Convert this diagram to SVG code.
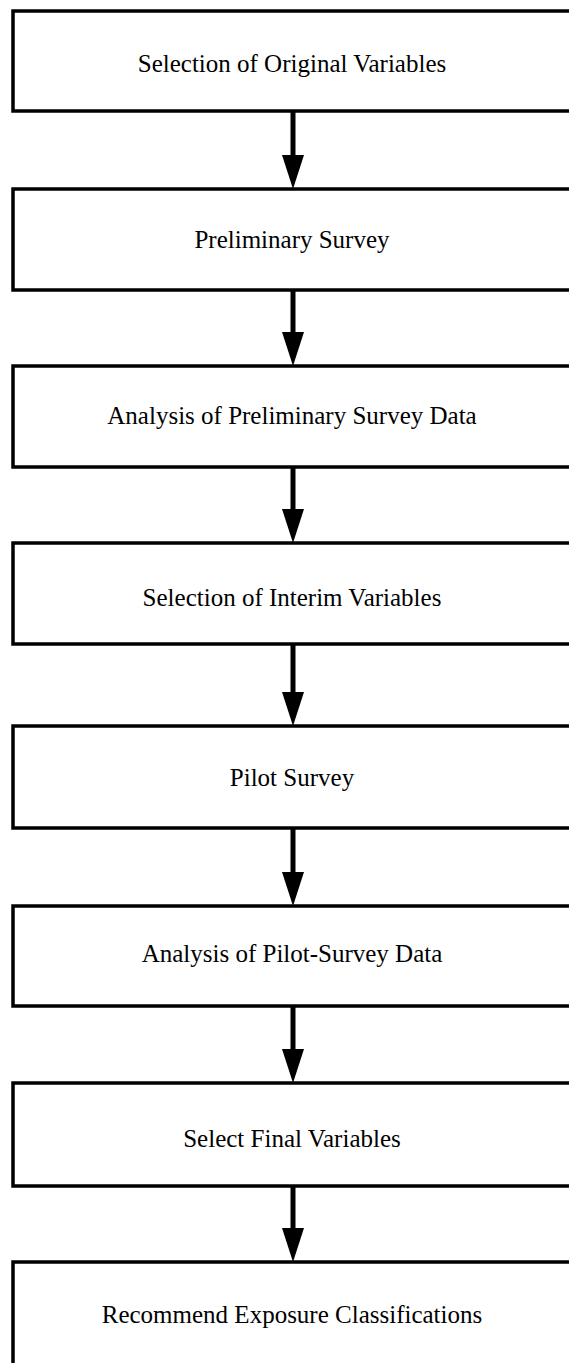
<svg xmlns="http://www.w3.org/2000/svg" width="569" height="1363" viewBox="0 0 569 1363">
<defs>
<style>
.box{fill:#fff;stroke:#000;stroke-width:3.5}
.lbl{font-family:"Liberation Serif","Times New Roman",serif;font-size:25px;fill:#000;text-anchor:middle}
.shaft{stroke:#000;stroke-width:5;fill:none}
.head{fill:#000}
</style>
</defs>
<rect width="569" height="1363" fill="#fff"/>
<g id="n1"><rect class="box" x="13" y="11" width="600" height="100"/><text class="lbl" x="292" y="72">Selection of Original Variables</text></g>
<g id="n2"><rect class="box" x="13" y="189" width="600" height="101"/><text class="lbl" x="292" y="248">Preliminary Survey</text></g>
<g id="n3"><rect class="box" x="13" y="366" width="600" height="101"/><text class="lbl" x="292" y="424">Analysis of Preliminary Survey Data</text></g>
<g id="n4"><rect class="box" x="13" y="543" width="600" height="101"/><text class="lbl" x="292" y="606">Selection of Interim Variables</text></g>
<g id="n5"><rect class="box" x="13" y="726" width="600" height="102"/><text class="lbl" x="292" y="786">Pilot Survey</text></g>
<g id="n6"><rect class="box" x="13" y="906" width="600" height="100"/><text class="lbl" x="292" y="962">Analysis of Pilot-Survey Data</text></g>
<g id="n7"><rect class="box" x="13" y="1083" width="600" height="103"/><text class="lbl" x="292" y="1147">Select Final Variables</text></g>
<g id="n8"><rect class="box" x="13" y="1262" width="600" height="140"/><text class="lbl" x="292" y="1323">Recommend Exposure Classifications</text></g>
<g id="connectors">
<line class="shaft" x1="293" y1="111" x2="293" y2="158"/><polygon class="head" points="282,155 304,155 293,189"/>
<line class="shaft" x1="293" y1="290" x2="293" y2="335"/><polygon class="head" points="282,332 304,332 293,366"/>
<line class="shaft" x1="293" y1="467" x2="293" y2="512"/><polygon class="head" points="282,509 304,509 293,543"/>
<line class="shaft" x1="293" y1="644" x2="293" y2="695"/><polygon class="head" points="282,692 304,692 293,726"/>
<line class="shaft" x1="293" y1="828" x2="293" y2="875"/><polygon class="head" points="282,872 304,872 293,906"/>
<line class="shaft" x1="293" y1="1006" x2="293" y2="1052"/><polygon class="head" points="282,1049 304,1049 293,1083"/>
<line class="shaft" x1="293" y1="1186" x2="293" y2="1231"/><polygon class="head" points="282,1228 304,1228 293,1262"/>
</g>
</svg>
